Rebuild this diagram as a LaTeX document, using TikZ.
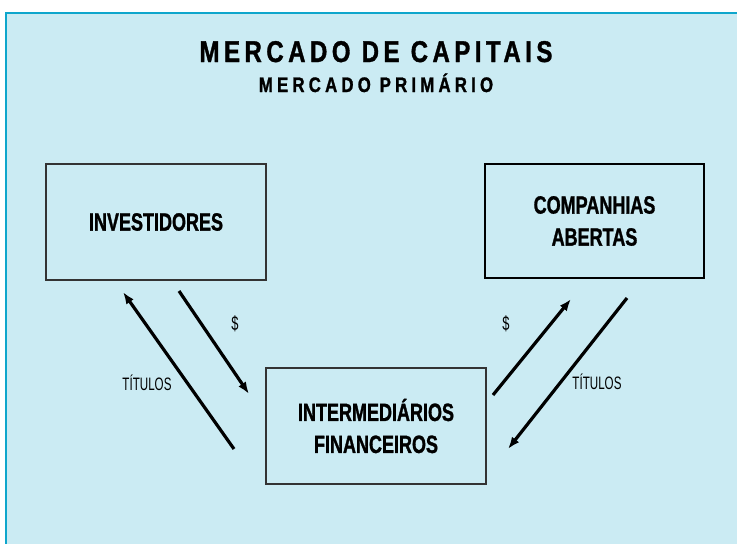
\documentclass[tikz,border=0pt]{standalone}
\usepackage{fontspec}
\setmainfont{Liberation Sans}
\newfontfamily\condfont{Liberation Sans}[FakeStretch=0.72, BoldFeatures={FakeBold=1.2}]
\newfontfamily\labelfont{Liberation Sans}[FakeStretch=0.645]
\newfontfamily\titlefont{Liberation Sans}[FakeStretch=0.8, LetterSpace=15, BoldFeatures={FakeBold=1.2}]
\newfontfamily\subtitlefont{Liberation Sans}[FakeStretch=0.8, LetterSpace=20, BoldFeatures={FakeBold=1.2}]
\usetikzlibrary{arrows.meta}
\definecolor{framecyan}{RGB}{14,166,204}
\definecolor{panelblue}{RGB}{203,235,243}

\begin{document}
\begin{tikzpicture}[x=1pt, y=-1pt, thick,
    box/.style={draw=black!80, line width=1.5pt, minimum width=220pt, minimum height=116pt,
        inner sep=0pt, outer sep=0pt, align=center, font=\condfont\bfseries\fontsize{25}{32}\selectfont},
    flow/.style={line width=3.2pt, -{Latex[length=12pt,width=9pt]}},
    lbl/.style={anchor=base, font=\labelfont\fontsize{18}{20}\selectfont}]
    \useasboundingbox (0,0) rectangle (737,544);
    \fill[panelblue] (6,13) rectangle (760,560);
    \draw[framecyan, line width=2.5pt] (6,560) -- (6,13) -- (760,13);

    \node[anchor=base, font=\titlefont\bfseries\fontsize{30}{36}\selectfont] at (376,62) (title) {MERCADO DE CAPITAIS};
    \node[anchor=base, font=\subtitlefont\bfseries\fontsize{21}{24}\selectfont] at (376,92) (subtitle) {MERCADO PRIMÁRIO};

    \node[box] at (156,222) (inv) {INVESTIDORES};
    \node[box, draw=black, line width=2.5pt, minimum width=219pt, minimum height=114pt] at (594.5,221) (cia) {COMPANHIAS\\ABERTAS};
    \node[box] at (376,426) (int) {INTERMEDIÁRIOS\\FINANCEIROS};

    % pontas livres das setas
    \coordinate (tl1) at (234,449); \coordinate (tl2) at (123,292);
    \coordinate (dl1) at (179,291); \coordinate (dl2) at (249,394);
    \coordinate (dr1) at (493,395); \coordinate (dr2) at (571,299);
    \coordinate (tr1) at (627,298); \coordinate (tr2) at (508,449);

    \draw [flow] (tl1) -- (tl2);
    \draw [flow] (dl1) -- (dl2);
    \draw [flow] (dr1) -- (dr2);
    \draw [flow] (tr1) -- (tr2);

    \node[lbl, font=\labelfont\fontsize{20}{22}\selectfont] at (235,330) (dlbl) {\$};
    \node[lbl] at (147,390) (tlbl) {TÍTULOS};
    \node[lbl, font=\labelfont\fontsize{20}{22}\selectfont] at (506,330) (drlbl) {\$};
    \node[lbl] at (597,389) (trlbl) {TÍTULOS};
\end{tikzpicture}
\end{document}
